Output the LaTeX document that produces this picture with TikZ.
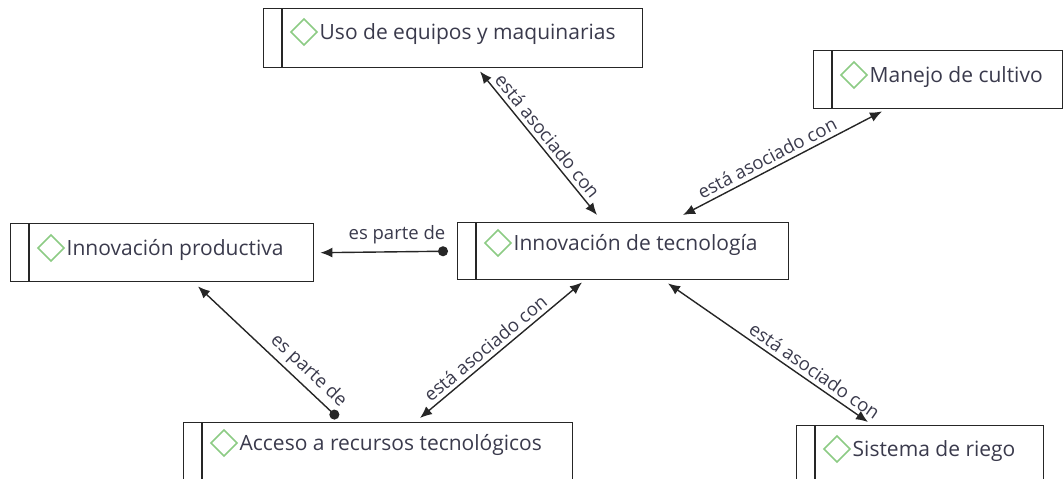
\documentclass[tikz,border=0pt]{standalone}
\usepackage{fontspec}
\setmainfont{Open Sans}
\usetikzlibrary{arrows.meta,calc}
\definecolor{txt}{HTML}{3A3A4C}
\definecolor{dgreen}{HTML}{8CCB84}
\newcommand{\dmd}{\tikz[baseline=0pt,x=1pt,y=1pt]{\draw[dgreen,line width=1.5pt] (0,7)--(13,20)--(26,7)--(13,-6)--cycle;}\hspace{2pt}}
\tikzset{
  box/.style={draw=black!85, line width=1.4pt, rectangle, anchor=north west, minimum width=#1, minimum height=58pt, inner sep=0pt},
  boxline/.style={draw=black!85, line width=1.4pt},
  btext/.style={anchor=west, inner sep=0pt, text=txt, font=\fontsize{21}{24}\selectfont},
  elab/.style={text=txt, font=\fontsize{18.5}{21}\selectfont, inner sep=4pt},
  conn/.style={draw=black!85, line width=1.4pt},
  both/.style={conn, {Latex[length=12pt,width=10pt]}-{Latex[length=12pt,width=10pt]}},
  part/.style={conn, {Latex[length=12pt,width=10pt]}-{Circle[length=10pt]}},
}
\begin{document}
\begin{tikzpicture}[x=1pt,y=-1pt]
\useasboundingbox (0,0) rectangle (1063,479);
\clip (0,0) rectangle (1063,479);
\node[box=379pt, minimum height=59pt] (uso) at (263,8) {};
\node[box=249pt] (manejo) at (813,50) {};
\node[box=303pt] (prod) at (10,223) {};
\node[box=331pt, minimum height=57pt] (tec) at (457,222) {};
\node[box=389pt] (acceso) at (183,422) {};
\node[box=247pt] (riego) at (796,425) {};
\foreach \n in {uso,manejo,prod,tec,acceso,riego}
  \draw[boxline] ([xshift=19pt]\n.north west) -- ([xshift=19pt]\n.south west);
\node[btext] (usot) at ([xshift=27pt,yshift=-24pt]uso.north west) {\dmd Uso de equipos y maquinarias};
\node[btext] (manejot) at ([xshift=27pt,yshift=-25pt]manejo.north west) {\dmd Manejo de cultivo};
\node[btext] (prodt) at ([xshift=27pt,yshift=-25pt]prod.north west) {\dmd Innovación productiva};
\node[btext] (tect) at ([xshift=27pt,yshift=-21pt]tec.north west) {\dmd Innovación de tecnología};
\node[btext] (accesot) at ([xshift=27pt,yshift=-21pt]acceso.north west) {\dmd Acceso a recursos tecnológicos};
\node[btext] (riegot) at ([xshift=27pt,yshift=-24pt]riego.north west) {\dmd Sistema de riego};
% connectors
\draw[both] ($(uso.south west)+(217,3)$) -- node[elab, sloped, above, pos=0.5] {está asociado con} ($(tec.north west)+(140,-7)$);
\draw[both] ($(tec.north west)+(226,-7)$) -- node[elab, sloped, above, pos=0.45] {está asociado con} ($(manejo.south west)+(69,2)$);
\draw[both] ($(acceso.north west)+(237,-4)$) -- node[elab, sloped, above, pos=0.45] {está asociado con} ($(tec.south west)+(125,2)$);
\draw[both] ($(tec.south west)+(211,3)$) -- node[elab, sloped, above, pos=0.7] {está asociado con} ($(riego.north west)+(72,-3)$);
\draw[part] ($(prod.south west)+(188,4)$) -- node[elab, sloped, above, pos=0.72] {es parte de} ($(acceso.north west)+(155,-4)$);
\draw[part] ($(prod.east)+(6,0)$) -- node[elab, above, pos=0.6, yshift=3pt] {es parte de} ($(tec.west)+(-9,0)$);
\end{tikzpicture}
\end{document}
